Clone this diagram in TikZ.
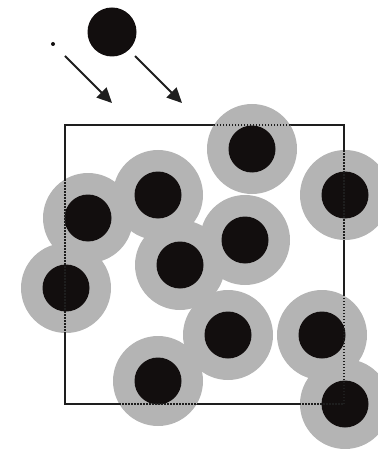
\documentclass[tikz,border=0pt]{standalone}
\usetikzlibrary{arrows.meta}
\definecolor{shellgray}{RGB}{180,180,180}
\definecolor{coreblack}{RGB}{18,14,14}
\definecolor{linegray}{RGB}{30,30,30}
\tikzset{
  shell/.style={circle,fill=shellgray,minimum size=90pt,inner sep=0pt,outer sep=0pt},
  core/.style={circle,fill=coreblack,minimum size=47pt,inner sep=0pt,outer sep=0pt},
  boxline/.style={line width=1.6pt,draw=linegray},
  boxdots/.style={line width=1.6pt,draw=linegray,dash pattern=on 1.5pt off 1.5pt},
  flyarrow/.style={line width=2pt,draw=linegray,fill=linegray,-{Triangle[length=15pt,width=14pt]}}
}
\begin{document}
\begin{tikzpicture}[x=1pt,y=-1pt]
\useasboundingbox (0,0) rectangle (377,449);
% box corners
\coordinate (tl) at (65,125);
\coordinate (br) at (344,404);
\draw[boxline] (tl) rectangle (br);
% shells
\foreach \n/\x/\y in {a/252/149, b/345/195, c/88/218, d/66/288, e/158/195, f/180/265, g/245/240, h/228/335, i/158/381, j/322/335, k/345/404}{
  \node[shell] (s\n) at (\x,\y) {};
}
\foreach \n in {a,b,c,d,e,f,g,h,i,j,k}{
  \node[core] (c\n) at (s\n.center) {};
}
\draw[boxdots] (tl) rectangle (br);
% incoming particles
\node[circle,fill=coreblack,minimum size=49pt,inner sep=0pt] (ball) at (112,32) {};
\node[circle,fill=coreblack,minimum size=4pt,inner sep=0pt] (dot) at (53,44) {};
\coordinate (a1s) at (65,56);
\coordinate (a1e) at (112,103);
\coordinate (a2s) at (135,56);
\coordinate (a2e) at (182,103);
\draw[flyarrow] (a1s) -- (a1e);
\draw[flyarrow] (a2s) -- (a2e);
\end{tikzpicture}
\end{document}
